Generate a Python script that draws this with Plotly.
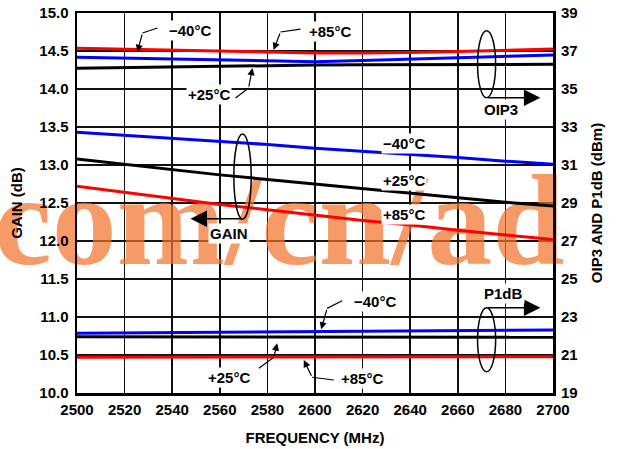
import plotly.graph_objects as go

# ---------------- data ----------------
freq = [2500, 2520, 2540, 2560, 2580, 2600, 2620, 2640, 2660, 2680, 2700]

# Gain (dB), left axis
gain_m40 = [13.43, 13.39, 13.35, 13.31, 13.27, 13.22, 13.18, 13.14, 13.10, 13.05, 13.01]
gain_p25 = [13.08, 13.01, 12.94, 12.87, 12.81, 12.75, 12.69, 12.63, 12.57, 12.51, 12.46]
gain_p85 = [12.72, 12.64, 12.56, 12.48, 12.41, 12.34, 12.27, 12.21, 12.14, 12.08, 12.02]

# OIP3 (dBm), right axis
oip3_m40 = [36.67, 36.63, 36.58, 36.53, 36.48, 36.44, 36.50, 36.58, 36.65, 36.72, 36.79]
oip3_p25 = [36.09, 36.13, 36.17, 36.20, 36.23, 36.26, 36.27, 36.28, 36.29, 36.30, 36.30]
oip3_p85 = [37.15, 37.10, 37.05, 37.00, 36.95, 36.90, 36.90, 36.92, 36.98, 37.04, 37.10]

# P1dB (dBm), right axis
p1db_m40 = [22.14, 22.16, 22.18, 22.19, 22.21, 22.23, 22.25, 22.27, 22.29, 22.30, 22.32]
p1db_p25 = [21.96, 21.96, 21.95, 21.95, 21.95, 21.95, 21.94, 21.94, 21.94, 21.93, 21.93]
p1db_p85 = [20.88, 20.88, 20.89, 20.89, 20.89, 20.90, 20.90, 20.90, 20.91, 20.91, 20.91]

x_ticks = list(range(2500, 2701, 20))
left_ticks = [10.0 + 0.5 * i for i in range(11)]
right_ticks = list(range(19, 40, 2))

watermark_text = "com/cn/ad"

BLUE = "#0000FF"
RED = "#FF0000"
BLACK = "#000000"
FONT = "Liberation Sans, Arial, sans-serif"

fig = go.Figure()

# watermark (beneath the curves)
fig.add_trace(go.Scatter(
    x=[2585.0], y=[12.12], mode="text", text=[watermark_text],
    textposition="middle center",
    textfont=dict(family="Liberation Serif, Times New Roman, serif", size=130,
                  color="rgba(243,115,45,0.72)", weight="bold"),
    cliponaxis=False, hoverinfo="skip", showlegend=False, yaxis="y"))

def line(x, y, color, axis):
    fig.add_trace(go.Scatter(x=x, y=y, mode="lines", yaxis=axis,
                             line=dict(color=color, width=3),
                             hoverinfo="skip", showlegend=False))

line(freq, gain_m40, BLUE, "y")
line(freq, gain_p25, BLACK, "y")
line(freq, gain_p85, RED, "y")
line(freq, oip3_p25, BLACK, "y2")
line(freq, oip3_m40, BLUE, "y2")
line(freq, oip3_p85, RED, "y2")
line(freq, p1db_p25, BLACK, "y2")
line(freq, p1db_m40, BLUE, "y2")
line(freq, p1db_p85, RED, "y2")

annotations = []
shapes = []

def label(text, x, y):
    annotations.append(dict(x=x, y=y, xref="x", yref="y", text=text, showarrow=False,
                            font=dict(family=FONT, size=15, color="black", weight="bold"),
                            bgcolor="white", borderpad=1, xanchor="center", yanchor="middle"))

def leader(start, bend, tip):
    shapes.append(dict(type="line", xref="x", yref="y", x0=start[0], y0=start[1],
                       x1=bend[0], y1=bend[1], line=dict(color="black", width=1.2)))
    annotations.append(dict(x=tip[0], y=tip[1], ax=bend[0], ay=bend[1], xref="x", yref="y",
                            axref="x", ayref="y", text="", showarrow=True, arrowhead=2,
                            arrowsize=1.2, arrowwidth=1.2, arrowcolor="black", standoff=0))

def big_arrow(tail, tip):
    annotations.append(dict(x=tip[0], y=tip[1], ax=tail[0], ay=tail[1], xref="x", yref="y",
                            axref="x", ayref="y", text="", showarrow=True, arrowhead=2,
                            arrowsize=2.2, arrowwidth=1.5, arrowcolor="black", standoff=0))

def ellipse(x0, x1, y0, y1):
    shapes.append(dict(type="circle", xref="x", yref="y", x0=x0, x1=x1, y0=y0, y1=y1,
                       line=dict(color="black", width=1.5)))

# top (OIP3) labels
label("\u221240\u00b0C", 2547.3, 14.776)
leader((2533.8, 14.803), (2527.5, 14.737), (2525.4, 14.487))
label("+85\u00b0C", 2606.5, 14.754)
leader((2593.9, 14.789), (2585.5, 14.75), (2582.6, 14.513))
label("+25\u00b0C", 2555.3, 13.934)
leader((2566.6, 13.882), (2572.1, 14.013), (2573.7, 14.276))
ellipse(2668.3, 2675.9, 13.886, 14.767)
big_arrow((2672.1, 13.886), (2694.7, 13.886))
label("OIP3", 2678.0, 13.724)

# gain labels
label("\u221240\u00b0C", 2637.2, 13.286)
label("+25\u00b0C", 2637.2, 12.793)
label("+85\u00b0C", 2637.2, 12.355)
ellipse(2565.9, 2573.2, 12.286, 13.408)
big_arrow((2570.0, 12.293), (2547.7, 12.293))
label("GAIN", 2563.8, 12.101)

# P1dB labels
ellipse(2668.3, 2675.9, 10.280, 11.122)
big_arrow((2672.1, 11.122), (2694.7, 11.122))
label("P1dB", 2679.1, 11.303)
label("\u221240\u00b0C", 2625.0, 11.201)
leader((2611.4, 11.214), (2605.1, 11.114), (2602.6, 10.838))
label("+85\u00b0C", 2619.8, 10.193)
leader((2607.9, 10.171), (2598.8, 10.207), (2595.3, 10.434))
label("+25\u00b0C", 2563.8, 10.207)
leader((2576.4, 10.325), (2582.7, 10.470), (2584.1, 10.654))

tickfont = dict(family=FONT, size=15, color="black", weight="bold")
titlefont = dict(family=FONT, size=15, color="black", weight="bold")

fig.update_layout(
    width=621, height=449,
    margin=dict(l=77, r=68, t=13, b=56, autoexpand=False),
    paper_bgcolor="white", plot_bgcolor="white",
    showlegend=False, hovermode=False,
    annotations=annotations, shapes=shapes,
    xaxis=dict(range=[2500, 2700], tickvals=x_ticks, showgrid=True, gridcolor="#111",
               gridwidth=1.5, zeroline=False, showline=True, linecolor="black", linewidth=2.5,
               mirror=True, ticks="", tickfont=tickfont, ticklabelstandoff=1,
               title=dict(text="FREQUENCY (MHz)", font=titlefont, standoff=16)),
    yaxis=dict(range=[10, 15], tickvals=left_ticks, tickformat=".1f", showgrid=True,
               gridcolor="#111", gridwidth=1.5, zeroline=False, showline=True,
               linecolor="black", linewidth=2.5, mirror=True, ticks="", tickfont=tickfont,
               ticklabelstandoff=3,
               title=dict(text="GAIN (dB)", font=titlefont, standoff=13)),
    yaxis2=dict(range=[19, 39], tickvals=right_ticks, overlaying="y", side="right",
                showgrid=False, zeroline=False, showline=False, ticks="", tickfont=tickfont,
                ticklabelstandoff=7,
                title=dict(text="OIP3 AND P1dB (dBm)", font=titlefont, standoff=14)),
)

fig.write_html("out.html", config={"displayModeBar": False, "staticPlot": True},
               post_script="document.body.style.margin='0px';")
